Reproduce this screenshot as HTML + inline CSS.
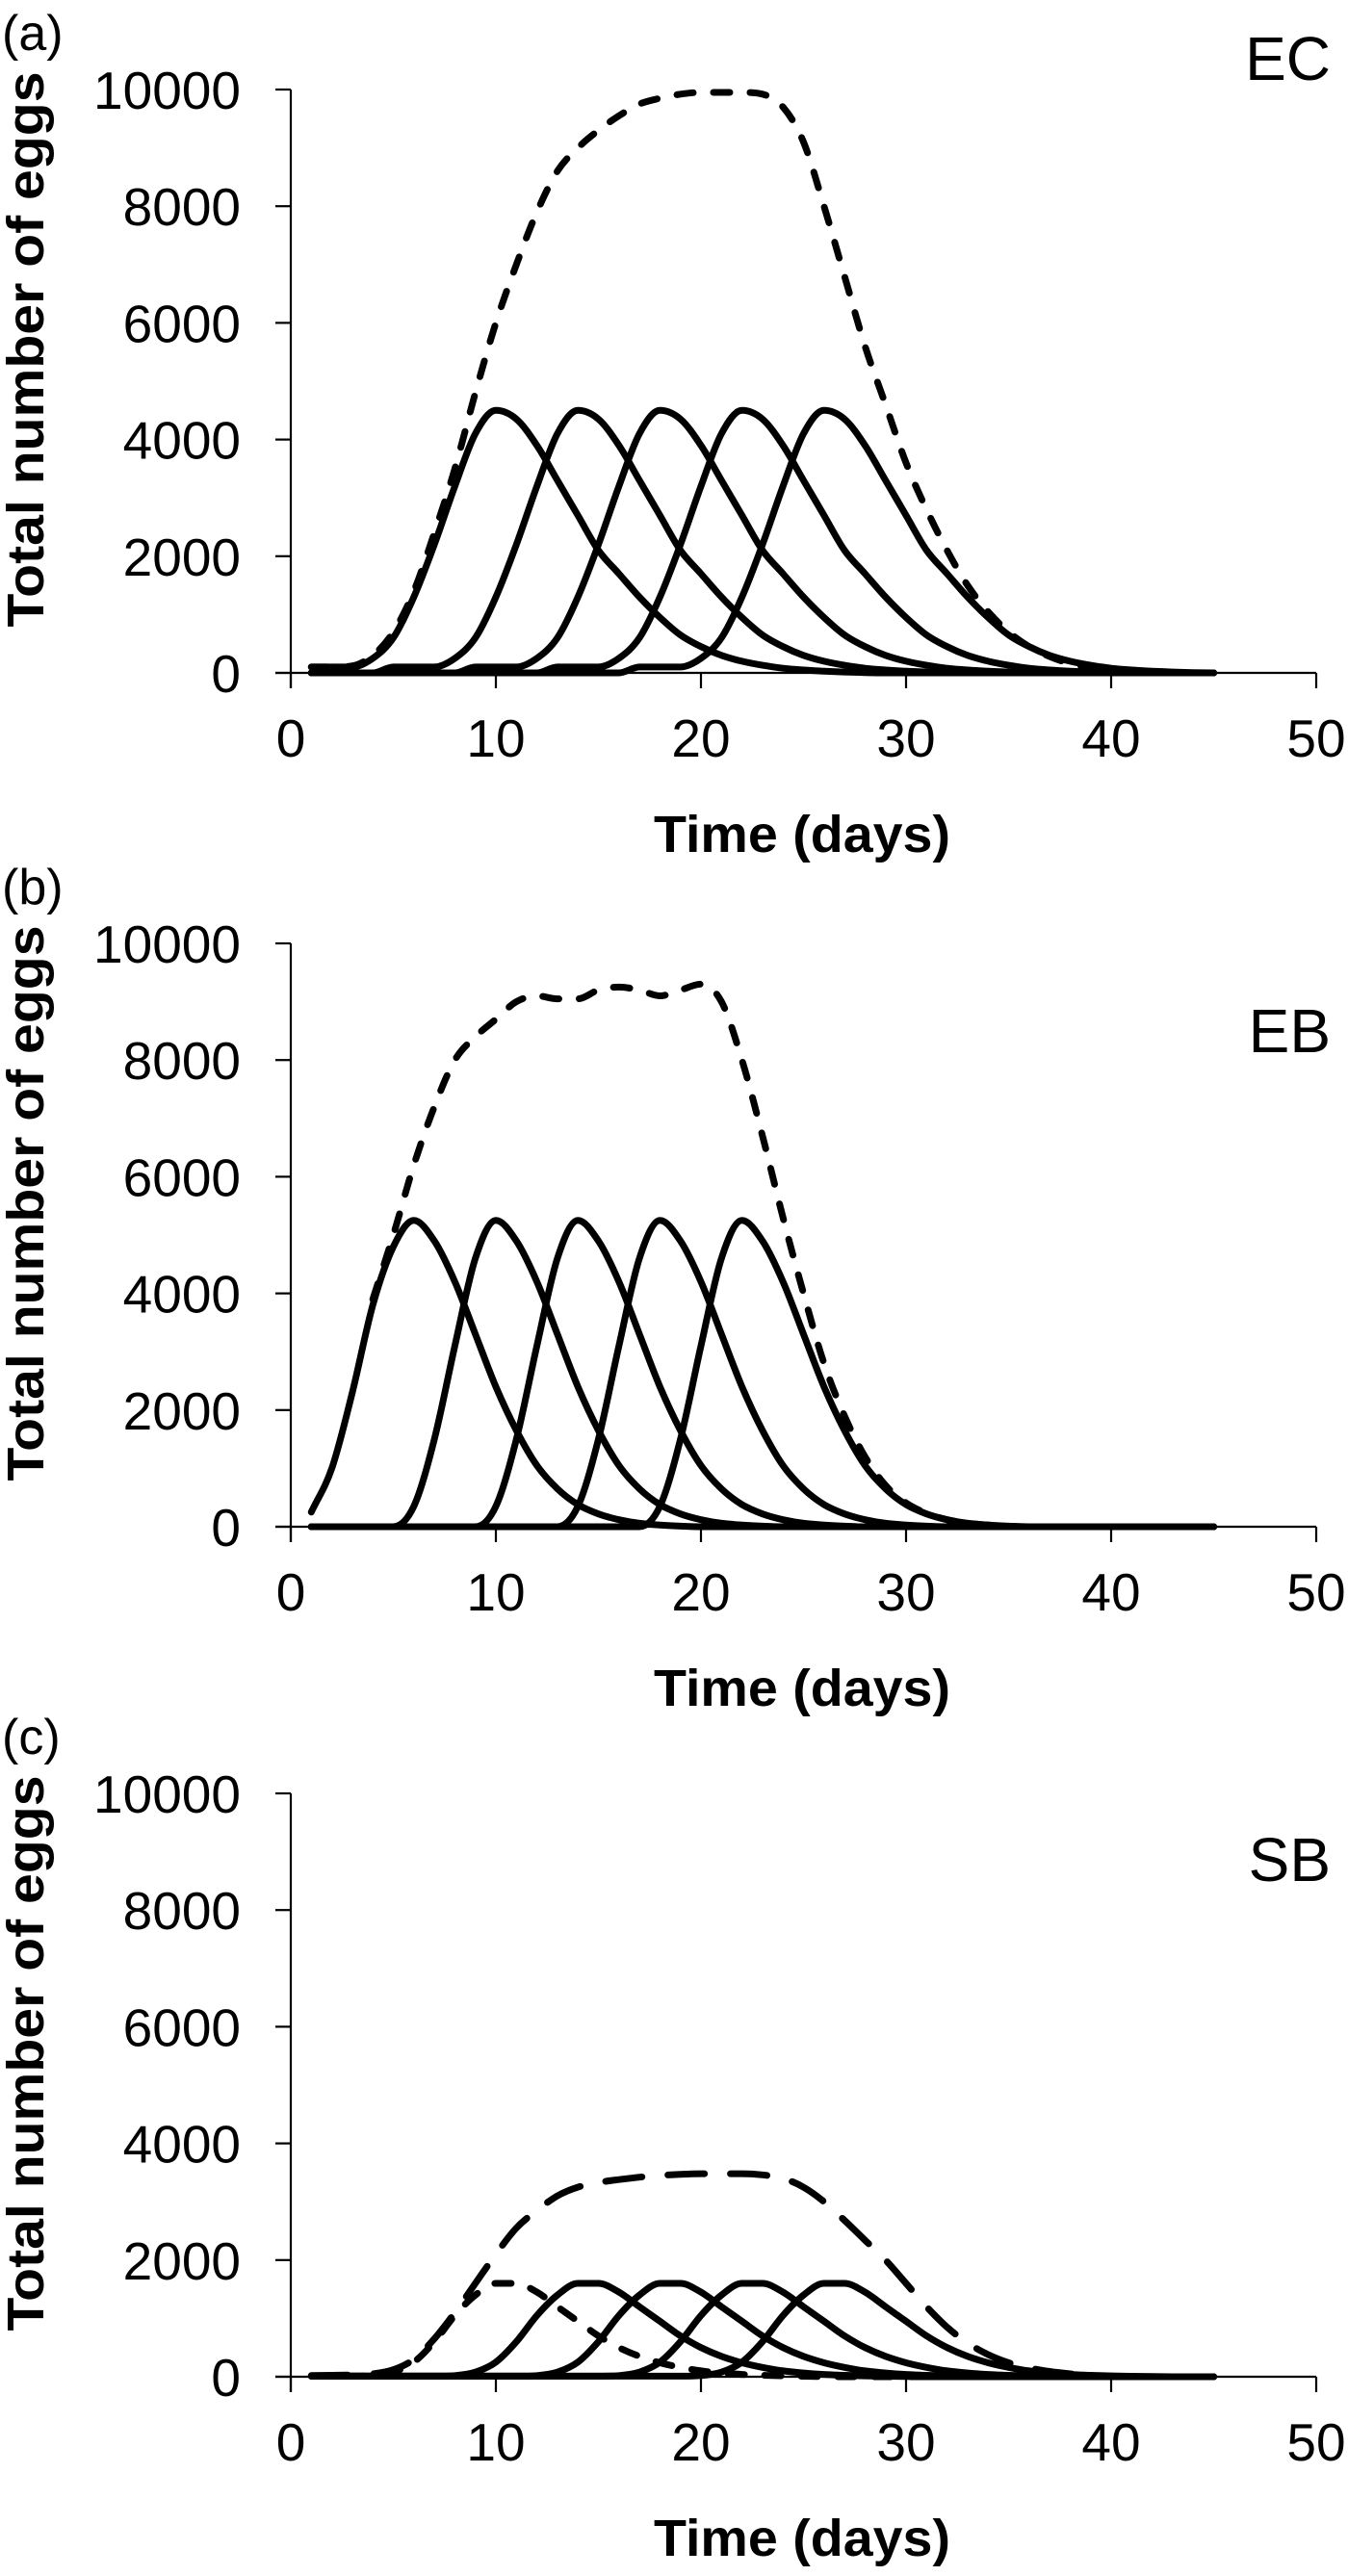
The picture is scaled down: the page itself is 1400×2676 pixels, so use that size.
<!DOCTYPE html>
<html><head><meta charset="utf-8"><style>
html,body{margin:0;padding:0;background:#fff;}
svg{display:block;font-family:"Liberation Sans",Arial,sans-serif;}
</style></head><body>
<svg id="chart" width="1400" height="2676" viewBox="0 0 1400 2676" xmlns="http://www.w3.org/2000/svg"></svg>
<script>
const days=[1,2,3,4,5,6,7,8,9,10,11,12,13,14,15,16,17,18,19,20,21,22,23,24,25,26,27,28,29,30,31,32,33,34,35,36,37,38,39,40,41,42,43,44,45];
const xTicks=[0,10,20,30,40,50];
const yTicks=[0,2000,4000,6000,8000,10000];

// Panel (a) EC
const ecCohort1=[100,100,100,250,600,1300,2200,3200,4100,4500,4350,3900,3300,2700,2100,1700,1300,950,650,450,300,200,130,80,50,30,15,5,0,0,0,0,0,0,0,0,0,0,0,0,0,0,0,0,0];
const ecCohort2=[0,0,0,0,100,100,100,250,600,1300,2200,3200,4100,4500,4350,3900,3300,2700,2100,1700,1300,950,650,450,300,200,130,80,50,30,15,5,0,0,0,0,0,0,0,0,0,0,0,0,0];
const ecCohort3=[0,0,0,0,0,0,0,0,100,100,100,250,600,1300,2200,3200,4100,4500,4350,3900,3300,2700,2100,1700,1300,950,650,450,300,200,130,80,50,30,15,5,0,0,0,0,0,0,0,0,0];
const ecCohort4=[0,0,0,0,0,0,0,0,0,0,0,0,100,100,100,250,600,1300,2200,3200,4100,4500,4350,3900,3300,2700,2100,1700,1300,950,650,450,300,200,130,80,50,30,15,5,0,0,0,0,0];
const ecCohort5=[0,0,0,0,0,0,0,0,0,0,0,0,0,0,0,0,100,100,100,250,600,1300,2200,3200,4100,4500,4350,3900,3300,2700,2100,1700,1300,950,650,450,300,200,130,80,50,30,15,5,0];
const ecTotal=[100,100,120,300,700,1400,2400,3500,4800,6000,7000,7900,8600,9000,9300,9550,9750,9850,9920,9950,9950,9950,9920,9700,9100,8000,6800,5600,4600,3600,2800,2100,1500,1050,700,450,280,160,90,50,25,10,5,0,0];

// Panel (b) EB
const ebCohort1=[250,1000,2300,3800,4800,5250,4900,4200,3300,2400,1650,1050,650,380,220,120,60,30,10,0,0,0,0,0,0,0,0,0,0,0,0,0,0,0,0,0,0,0,0,0,0,0,0,0,0];
const ebCohort2=[0,0,0,0,0,350,1500,3100,4600,5250,4900,4200,3300,2400,1650,1050,650,380,220,120,60,30,10,0,0,0,0,0,0,0,0,0,0,0,0,0,0,0,0,0,0,0,0,0,0];
const ebCohort3=[0,0,0,0,0,0,0,0,0,350,1500,3100,4600,5250,4900,4200,3300,2400,1650,1050,650,380,220,120,60,30,10,0,0,0,0,0,0,0,0,0,0,0,0,0,0,0,0,0,0];
const ebCohort4=[0,0,0,0,0,0,0,0,0,0,0,0,0,350,1500,3100,4600,5250,4900,4200,3300,2400,1650,1050,650,380,220,120,60,30,10,0,0,0,0,0,0,0,0,0,0,0,0,0,0];
const ebCohort5=[0,0,0,0,0,0,0,0,0,0,0,0,0,0,0,0,0,350,1500,3100,4600,5250,4900,4200,3300,2400,1650,1050,650,380,220,120,60,30,10,0,0,0,0,0,0,0,0,0,0];
const ebTotal=[null,null,null,3900,5000,6200,7200,8000,8400,8700,9000,9100,9050,9050,9200,9250,9200,9100,9200,9300,9000,8000,6700,5300,4000,2800,1900,1200,710,410,230,120,60,30,10,0,0,0,0,0,0,0,0,0,0];

// Panel (c) SB
const sbCohort0=[10,10,10,20,80,250,600,1050,1400,1600,1600,1450,1200,950,700,500,350,240,160,100,65,40,25,15,8,4,0,0,0,0,0,0,0,0,0,0,0,0,0,0,0,0,0,0,0];
const sbCohort1=[10,10,10,10,10,10,10,20,80,250,600,1050,1400,1600,1600,1450,1200,950,700,500,350,240,160,100,65,40,25,15,8,4,0,0,0,0,0,0,0,0,0,0,0,0,0,0,0];
const sbCohort2=[10,10,10,10,10,10,10,10,10,10,10,20,80,250,600,1050,1400,1600,1600,1450,1200,950,700,500,350,240,160,100,65,40,25,15,8,4,0,0,0,0,0,0,0,0,0,0,0];
const sbCohort3=[10,10,10,10,10,10,10,10,10,10,10,10,10,10,10,20,80,250,600,1050,1400,1600,1600,1450,1200,950,700,500,350,240,160,100,65,40,25,15,8,4,0,0,0,0,0,0,0];
const sbCohort4=[10,10,10,10,10,10,10,10,10,10,10,10,10,10,10,10,10,10,10,20,80,250,600,1050,1400,1600,1600,1450,1200,950,700,500,350,240,160,100,65,40,25,15,8,4,0,0,0];
const sbTotal=[20,25,30,50,120,300,650,1100,1600,2100,2550,2850,3100,3250,3330,3380,3420,3450,3470,3480,3480,3480,3460,3400,3250,3000,2680,2340,2000,1600,1200,850,580,380,240,150,90,50,25,10,0,0,0,0,0];

const NS="http://www.w3.org/2000/svg";
const svg=document.getElementById('chart');
const X0=302,X1=1367,XMAX=50,YMAX=10000,PH=606;
function xS(v){return X0+(v/XMAX)*(X1-X0);}
function mk(tag,attrs,parent){const e=document.createElementNS(NS,tag);for(const k in attrs)e.setAttribute(k,attrs[k]);(parent||svg).appendChild(e);return e;}

function monoPath(pts){
  const n=pts.length;if(n<2)return '';
  const d=[],m=[];
  for(let i=0;i<n-1;i++){d.push((pts[i+1][1]-pts[i][1])/(pts[i+1][0]-pts[i][0]));}
  m[0]=d[0];m[n-1]=d[n-2];
  for(let i=1;i<n-1;i++){m[i]=(d[i-1]*d[i]<=0)?0:(d[i-1]+d[i])/2;}
  for(let i=0;i<n-1;i++){if(d[i]===0){m[i]=0;m[i+1]=0;continue;}const a=m[i]/d[i],b=m[i+1]/d[i],s=a*a+b*b;if(s>9){const t=3/Math.sqrt(s);m[i]=t*a*d[i];m[i+1]=t*b*d[i];}}
  let p='M'+pts[0][0].toFixed(1)+','+pts[0][1].toFixed(1);
  for(let i=0;i<n-1;i++){const h=pts[i+1][0]-pts[i][0];
    p+=' C'+(pts[i][0]+h/3).toFixed(1)+','+(pts[i][1]+m[i]*h/3).toFixed(1)+' '+(pts[i+1][0]-h/3).toFixed(1)+','+(pts[i+1][1]-m[i+1]*h/3).toFixed(1)+' '+pts[i+1][0].toFixed(1)+','+pts[i+1][1].toFixed(1);}
  return p;
}

function panel(cfg){
  const top=cfg.top,bot=top+PH;
  const yS=v=>bot-(v/YMAX)*PH;
  const g=mk('g',{});
  
  
  cfg.series.forEach(s=>{
    const pts=[];days.forEach((dd,i)=>{if(s.values[i]!==null)pts.push([xS(dd),yS(s.values[i])]);});
    const p=mk('path',{d:monoPath(pts),fill:'none',stroke:'#000','stroke-width':7,'stroke-linecap':'round','stroke-linejoin':'round'},g);
    if(s.dash)p.setAttribute('stroke-dasharray',s.dash);
    
    
  });
  const ya=mk('line',{x1:X0,y1:top,x2:X0,y2:bot+16,stroke:'#000','stroke-width':2.2},g);
  
  
  const xa=mk('line',{x1:X0-16,y1:bot,x2:X1,y2:bot,stroke:'#000','stroke-width':2.2},g);
  
  
  yTicks.forEach(t=>{
    mk('line',{x1:X0-16,y1:yS(t),x2:X0,y2:yS(t),stroke:'#000','stroke-width':2.2},g);
    const tx=mk('text',{x:250,y:yS(t)+20,'text-anchor':'end','font-size':55},g);
    tx.textContent=t;
    
    
  });
  xTicks.forEach(t=>{
    mk('line',{x1:xS(t),y1:bot,x2:xS(t),y2:bot+16,stroke:'#000','stroke-width':2.2},g);
    const tx=mk('text',{x:xS(t),y:bot+87,'text-anchor':'middle','font-size':55},g);
    tx.textContent=t;
    
    
  });
  const yt=mk('text',{x:0,y:0,'text-anchor':'middle','font-size':54,'font-weight':'bold',textLength:577,lengthAdjust:'spacingAndGlyphs',transform:'translate(45,'+(top+270)+') rotate(-90)'},g);
  yt.textContent='Total number of eggs';
  
  
  const xt=mk('text',{x:833,y:bot+186,'text-anchor':'middle','font-size':54,'font-weight':'bold',textLength:308,lengthAdjust:'spacingAndGlyphs'},g);
  xt.textContent='Time (days)';
  
  
  const pl=mk('text',{x:2,y:top-41,'font-size':52},g);
  pl.textContent=cfg.letter;
  
  
  const sl=mk('text',{x:1382,y:top+cfg.tagDy,'text-anchor':'end','font-size':64},g);
  sl.textContent=cfg.tag;
  
  
}

panel({name:'panel-a-ec',top:93,letter:'(a)',tag:'EC',tagDy:-10,series:[
 {name:'ec-cohort-1',values:ecCohort1},{name:'ec-cohort-2',values:ecCohort2},{name:'ec-cohort-3',values:ecCohort3},
 {name:'ec-cohort-4',values:ecCohort4},{name:'ec-cohort-5',values:ecCohort5},{name:'ec-total',values:ecTotal,dash:'17 21'}]});
panel({name:'panel-b-eb',top:980,letter:'(b)',tag:'EB',tagDy:113,series:[
 {name:'eb-cohort-1',values:ebCohort1},{name:'eb-cohort-2',values:ebCohort2},{name:'eb-cohort-3',values:ebCohort3},
 {name:'eb-cohort-4',values:ebCohort4},{name:'eb-cohort-5',values:ebCohort5},{name:'eb-total',values:ebTotal,dash:'17 21'}]});
panel({name:'panel-c-sb',top:1863,letter:'(c)',tag:'SB',tagDy:91,series:[
 {name:'sb-cohort-0',values:sbCohort0,dash:'17 21'},{name:'sb-cohort-1',values:sbCohort1},{name:'sb-cohort-2',values:sbCohort2},
 {name:'sb-cohort-3',values:sbCohort3},{name:'sb-cohort-4',values:sbCohort4},{name:'sb-total',values:sbTotal,dash:'38 27'}]});
</script>
</body></html>
